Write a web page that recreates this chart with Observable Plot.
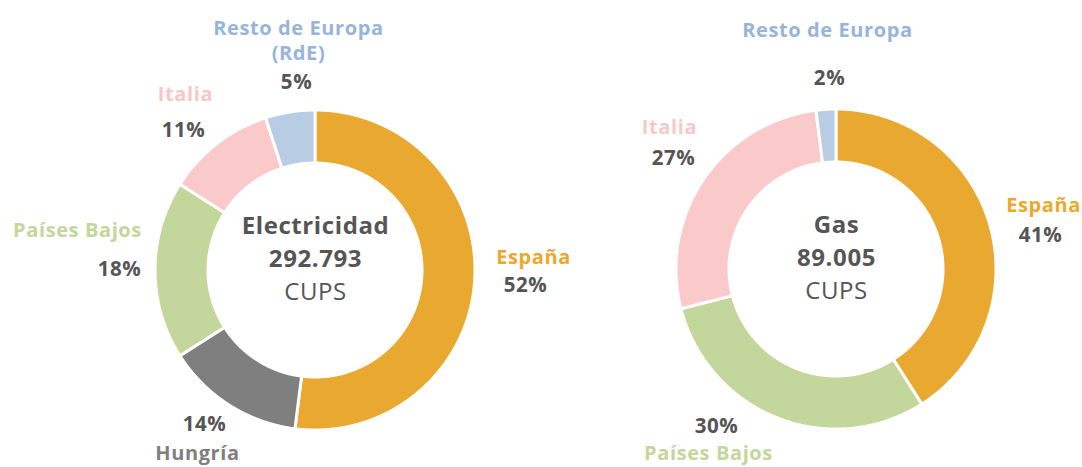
<!DOCTYPE html>
<html><head><meta charset="utf-8">
<script src="https://cdn.jsdelivr.net/npm/d3@7"></script>
<script src="https://cdn.jsdelivr.net/npm/@observablehq/plot@0.6"></script>
<style>
html,body{margin:0;padding:0;background:#fff;}
#chart svg{display:block;}
#chart text{letter-spacing:0.6px;}
</style>
</head><body><div id="chart"></div>
<script>
// ---- data ----
const elecCountries = ["España", "Hungría", "Países Bajos", "Italia", "Resto de Europa"];
const elecShare = [52, 14, 18, 11, 5];
const gasCountries = ["España", "Países Bajos", "Italia", "Resto de Europa"];
const gasShare = [41, 30, 27, 2];
const elecTitle = ["Electricidad", "292.793", "CUPS"];
const gasTitle = ["Gas", "89.005", "CUPS"];
const elecNames = ["España", "Hungría", "Países Bajos", "Italia", "Resto de Europa\n(RdE)"];
const gasNames = ["España", "Países Bajos", "Italia", "Resto de Europa"];

// ---- styles / layout ----
const allCountries = ["España", "Hungría", "Países Bajos", "Italia", "Resto de Europa"];
const sliceColors = ["#E9A931", "#7F7F7F", "#C3D69B", "#FACACB", "#B8CCE4"];
const labelColors = {"España": "#EDA82C", "Hungría": "#7F7F7F", "Países Bajos": "#C3D69B", "Italia": "#F8C7C7", "Resto de Europa": "#97B5D9"};
const dark = "#555555";
const FONT = "Open Sans, Lato, sans-serif";
const donuts = [
  {key: "elec", countries: elecCountries, share: elecShare, names: elecNames, title: elecTitle, cx: 315, cy: 270,
   // [name x, name y, pct x, pct y] for each slice
   pos: [[533, 255, 525, 285], [197, 451, 204, 424], [77, 228, 119, 269], [185, 92, 183, 130], [298, 27, 296, 82]]},
  {key: "gas", countries: gasCountries, share: gasShare, names: gasNames, title: gasTitle, cx: 836, cy: 269,
   pos: [[1043, 203, 1040, 235], [708, 451, 716, 426], [669, 125, 673, 158], [827, 28, 829, 78]]}
];
const R = 160, r0 = 107;

// ---- build arc geometry from the shares ----
const arcRows = [];
for (const d of donuts) {
  const total = d3.sum(d.share);
  let acc = 0;
  d.share.forEach((v, i) => {
    const a0 = acc / total * 2 * Math.PI;
    acc += v;
    const a1 = acc / total * 2 * Math.PI;
    const n = Math.max(2, Math.ceil((a1 - a0) / (Math.PI / 360)));
    for (let k = 0; k <= n; k++) {
      const a = a0 + (a1 - a0) * k / n;
      arcRows.push({
        slice: d.key + i, country: d.countries[i],
        x1: d.cx + R * Math.sin(a), y1: d.cy - R * Math.cos(a),
        x2: d.cx + r0 * Math.sin(a), y2: d.cy - r0 * Math.cos(a)
      });
    }
  });
}

const marks = [
  Plot.area(arcRows, {x1: "x1", y1: "y1", x2: "x2", y2: "y2", z: "slice", fill: "country",
    stroke: "white", strokeWidth: 3, strokeLinejoin: "miter", curve: "linear"})
];

for (const d of donuts) {
  // country names and percentages
  const nameRows = d.countries.map((c, i) => ({x: d.pos[i][0], y: d.pos[i][1], text: d.names[i], country: c}));
  for (const row of nameRows) {
    const multi = row.text.includes("\n");
    marks.push(Plot.text([row], {x: "x", y: "y", text: "text", fill: labelColors[row.country],
      fontSize: 20, fontWeight: 700, fontFamily: FONT, lineHeight: 1.25, lineAnchor: multi ? "top" : "middle",
      dy: multi ? -10 : 0}));
  }
  const pctRows = d.countries.map((c, i) => ({x: d.pos[i][2], y: d.pos[i][3], text: d.share[i] + "%"}));
  marks.push(Plot.text(pctRows, {x: "x", y: "y", text: "text", fill: dark, fontSize: 20.5, fontWeight: 700, fontFamily: FONT}));
  // centre text
  const centre = d.title.map((t, i) => ({x: d.cx, y: d.cy - 44 + i * 33, text: t, bold: i < 2}));
  marks.push(Plot.text(centre.filter(c => c.bold), {x: "x", y: "y", text: "text", fill: dark, fontSize: 24, fontWeight: 700, fontFamily: FONT}));
  marks.push(Plot.text(centre.filter(c => !c.bold), {x: "x", y: "y", text: "text", fill: dark, fontSize: 24, fontWeight: 400, fontFamily: FONT}));
}

const chart = Plot.plot({
  width: 1082, height: 467,
  margin: 0,
  x: {domain: [0, 1082], range: [0, 1082], axis: null},
  y: {domain: [0, 467], range: [0, 467], axis: null},
  color: {domain: allCountries, range: sliceColors},
  style: {background: "white"},
  marks
});
document.getElementById("chart").appendChild(chart);
</script>
</body></html>
